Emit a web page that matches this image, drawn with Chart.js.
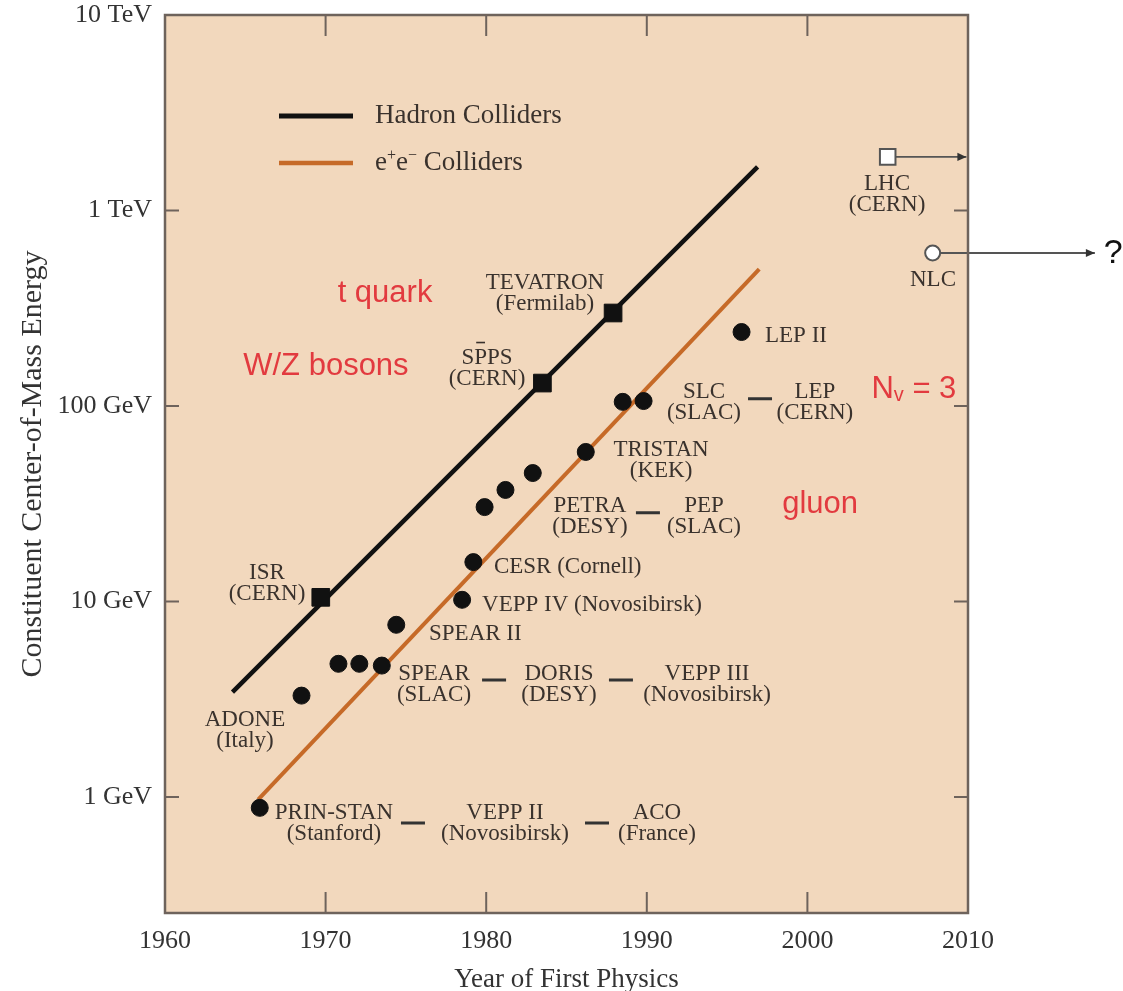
<!DOCTYPE html>
<html>
<head>
<meta charset="utf-8">
<title>Collider energy vs year of first physics</title>
<script src="https://cdn.jsdelivr.net/npm/chart.js@4.4.0/dist/chart.umd.min.js"></script>
<style>
  html, body { margin: 0; padding: 0; background: #fff; }
  #wrap { width: 1123px; height: 991px; }
</style>
</head>
<body>
<div id="wrap"><canvas id="chart" width="1123" height="991"></canvas></div>
<script>
// Constituent CM energy (GeV) vs year of first physics

// e+e- colliders (filled circles)
const eeYears  = [1965.9, 1968.5, 1970.8, 1972.1, 1973.5, 1974.4, 1978.5, 1979.2, 1979.9, 1981.2, 1982.9, 1986.2, 1988.5, 1989.8, 1995.9];
const eeEnergy = [0.88, 3.3, 4.8, 4.8, 4.7, 7.6, 10.2, 15.9, 30.4, 37.2, 45.4, 58.2, 105, 106, 239];

// hadron colliders (filled squares): ISR, SppS, Tevatron
const hadronYears  = [1969.7, 1983.5, 1987.9];
const hadronEnergy = [10.5, 131, 299];

// trend lines
const hadronTrendYears  = [1964.2, 1996.9];
const hadronTrendEnergy = [3.44, 1670];
const eeTrendYears  = [1965.8, 1997.0];
const eeTrendEnergy = [0.97, 502];

// future machines (open markers + arrow)
const lhcYears  = [2005.0, 2009.9];
const lhcEnergy = [1880, 1880];
const nlcYears  = [2007.8, 2017.9];
const nlcEnergy = [606, 606];

// axes
const yearTicks = [1960, 1970, 1980, 1990, 2000, 2010];
const energyTicks = [1, 10, 100, 1000, 10000];
const energyTickLabels = ['1 GeV', '10 GeV', '100 GeV', '1 TeV', '10 TeV'];

// machine names: [lines, year, energy, align]
const machineLabels = [
  [['TEVATRON', '(Fermilab)'], 1983.66, 378, 'center'],
  [['SPPS', '(CERN)'], 1980.05, 156, 'center'],
  [['ISR', '(CERN)'], 1966.35, 12.3, 'center'],
  [['ADONE', '(Italy)'], 1964.98, 2.2, 'center'],
  [['PRIN-STAN', '(Stanford)'], 1970.52, 0.736, 'center'],
  [['VEPP II', '(Novosibirsk)'], 1981.17, 0.736, 'center'],
  [['ACO', '(France)'], 1990.63, 0.736, 'center'],
  [['SPEAR', '(SLAC)'], 1976.75, 3.78, 'center'],
  [['DORIS', '(DESY)'], 1984.53, 3.78, 'center'],
  [['VEPP III', '(Novosibirsk)'], 1993.75, 3.78, 'center'],
  [['SPEAR II'], 1976.44, 6.82, 'left'],
  [['VEPP IV (Novosibirsk)'], 1979.74, 9.6, 'left'],
  [['CESR (Cornell)'], 1980.48, 15.0, 'left'],
  [['PETRA', '(DESY)'], 1986.46, 27.1, 'center'],
  [['PEP', '(SLAC)'], 1993.56, 27.1, 'center'],
  [['TRISTAN', '(KEK)'], 1990.89, 52.9, 'center'],
  [['SLC', '(SLAC)'], 1993.56, 104, 'center'],
  [['LEP', '(CERN)'], 2000.47, 104, 'center'],
  [['LEP II'], 1997.36, 228, 'left'],
  [['LHC', '(CERN)'], 2004.96, 1214, 'center'],
  [['NLC'], 2007.82, 441, 'center'],
];

// short bars joining machines of the same era: [year, energy]
const linkDashes = [
  [1975.44, 0.736], [1986.9, 0.736],
  [1980.49, 3.97], [1988.39, 3.97],
  [1990.07, 28.4],
  [1997.05, 109],
];

// red discovery notes: [text, year, energy]  ('|' toggles subscript)
const discoveries = [
  ['t quark', 1973.7, 378],
  ['W/Z bosons', 1970.02, 160],
  ['N|v| = 3', 2006.63, 121],
  ['gluon', 2000.79, 31.2],
];

const SERIF = "'Liberation Serif', 'Times New Roman', serif";
const SANS = "'Liberation Sans', Arial, sans-serif";
const BG = '#f2d8bd';
const ORANGE = '#c66a28';
const INK = '#3a322d';
const RED = '#e23a3f';

const toPts = (xs, ys) => xs.map((x, i) => ({ x, y: ys[i] }));

function arrowHead(ctx, x, y, size) {
  ctx.beginPath();
  ctx.moveTo(x, y);
  ctx.lineTo(x - size, y - size * 0.45);
  ctx.lineTo(x - size, y + size * 0.45);
  ctx.closePath();
  ctx.fill();
}

const decor = {
  id: 'decor',
  beforeDatasetsDraw(chart) {
    const { ctx, chartArea: a } = chart;
    ctx.save();
    ctx.fillStyle = BG;
    ctx.fillRect(a.left, a.top, a.right - a.left, a.bottom - a.top);
    ctx.restore();
  },
  afterDatasetsDraw(chart) {
    const { ctx, chartArea: a } = chart;
    const xs = chart.scales.x, ys = chart.scales.y;
    ctx.save();

    // frame + inward ticks
    ctx.strokeStyle = '#6e635c';
    ctx.lineWidth = 2.5;
    ctx.strokeRect(a.left, a.top, a.right - a.left, a.bottom - a.top);
    ctx.lineWidth = 2;
    ctx.beginPath();
    yearTicks.forEach((v) => {
      const px = xs.getPixelForValue(v);
      ctx.moveTo(px, a.bottom); ctx.lineTo(px, a.bottom - 21);
      ctx.moveTo(px, a.top); ctx.lineTo(px, a.top + 21);
    });
    energyTicks.forEach((v) => {
      const py = ys.getPixelForValue(v);
      ctx.moveTo(a.left, py); ctx.lineTo(a.left + 14, py);
      ctx.moveTo(a.right, py); ctx.lineTo(a.right - 14, py);
    });
    ctx.stroke();

    // arrowheads for future machines
    ctx.fillStyle = '#333';
    arrowHead(ctx, xs.getPixelForValue(lhcYears[1]), ys.getPixelForValue(lhcEnergy[1]), 9);
    const qx = xs.getPixelForValue(nlcYears[1]);
    const qy = ys.getPixelForValue(nlcEnergy[1]);
    arrowHead(ctx, qx, qy, 9);
    ctx.fillStyle = '#111';
    ctx.font = `34px ${SANS}`;
    ctx.textAlign = 'left';
    ctx.textBaseline = 'middle';
    ctx.fillText('?', qx + 9, qy + 1);

    // legend
    const lx = a.left + 114, ly1 = a.top + 101, ly2 = a.top + 148;
    ctx.lineCap = 'butt';
    ctx.lineWidth = 5;
    ctx.strokeStyle = '#111';
    ctx.beginPath(); ctx.moveTo(lx, ly1); ctx.lineTo(lx + 74, ly1); ctx.stroke();
    ctx.lineWidth = 4.5;
    ctx.strokeStyle = ORANGE;
    ctx.beginPath(); ctx.moveTo(lx, ly2); ctx.lineTo(lx + 74, ly2); ctx.stroke();
    ctx.fillStyle = INK;
    ctx.font = `27px ${SERIF}`;
    ctx.fillText('Hadron Colliders', lx + 96, ly1);
    let tx = lx + 96;
    const parts = [['e', 0], ['+', 1], ['e', 0], ['\u2212', 1], [' Colliders', 0]];
    parts.forEach(([t, sup]) => {
      ctx.font = sup ? `16px ${SERIF}` : `27px ${SERIF}`;
      ctx.fillText(t, tx, sup ? ly2 - 7 : ly2);
      tx += ctx.measureText(t).width;
    });

    // machine labels
    ctx.fillStyle = INK;
    ctx.font = `23px ${SERIF}`;
    machineLabels.forEach(([lines, yr, en, align]) => {
      const px = xs.getPixelForValue(yr);
      const py = ys.getPixelForValue(en);
      ctx.textAlign = align;
      const y0 = py - (lines.length - 1) * 10.5;
      lines.forEach((t, i) => ctx.fillText(t, px, y0 + i * 21));
      if (lines[0] === 'SPPS') {
        // bar over the first P (p-bar)
        const w = ctx.measureText('SPPS').width;
        const sW = ctx.measureText('S').width;
        const pW = ctx.measureText('P').width;
        const bx = px - w / 2 + sW;
        ctx.fillRect(bx + 2, y0 - 16, pW - 4, 1.6);
      }
    });

    // dashes between machines
    ctx.strokeStyle = '#333';
    ctx.lineWidth = 3;
    ctx.beginPath();
    linkDashes.forEach(([yr, en]) => {
      const px = xs.getPixelForValue(yr);
      const py = ys.getPixelForValue(en);
      ctx.moveTo(px - 12, py); ctx.lineTo(px + 12, py);
    });
    ctx.stroke();

    // red discovery notes
    ctx.fillStyle = RED;
    ctx.textAlign = 'left';
    const big = `31px ${SANS}`, small = `20px ${SANS}`;
    discoveries.forEach(([text, yr, en]) => {
      const px = xs.getPixelForValue(yr);
      const py = ys.getPixelForValue(en);
      const segs = text.split('|');
      let total = 0;
      segs.forEach((s, i) => {
        ctx.font = i % 2 ? small : big;
        total += ctx.measureText(s).width;
      });
      let cx = px - total / 2;
      segs.forEach((s, i) => {
        ctx.font = i % 2 ? small : big;
        ctx.fillText(s, cx, i % 2 ? py + 6 : py);
        cx += ctx.measureText(s).width;
      });
    });

    ctx.restore();
  },
};

new Chart(document.getElementById('chart'), {
  type: 'scatter',
  data: {
    datasets: [
      {
        label: 'Hadron Colliders',
        type: 'line',
        data: toPts(hadronTrendYears, hadronTrendEnergy),
        borderColor: '#111',
        borderWidth: 4.5,
        pointRadius: 0,
        order: 5,
      },
      {
        label: 'e+e- Colliders',
        type: 'line',
        data: toPts(eeTrendYears, eeTrendEnergy),
        borderColor: ORANGE,
        borderWidth: 4,
        pointRadius: 0,
        order: 5,
      },
      {
        label: 'LHC arrow',
        type: 'line',
        data: toPts(lhcYears, lhcEnergy),
        borderColor: '#555',
        borderWidth: 1.8,
        pointRadius: 0,
        clip: false,
        order: 4,
      },
      {
        label: 'NLC arrow',
        type: 'line',
        data: toPts(nlcYears, nlcEnergy),
        borderColor: '#555',
        borderWidth: 1.8,
        pointRadius: 0,
        clip: false,
        order: 4,
      },
      {
        label: 'hadron machines',
        data: toPts(hadronYears, hadronEnergy),
        pointStyle: 'rect',
        pointRadius: 12.5,
        backgroundColor: '#111',
        borderColor: '#111',
        order: 1,
      },
      {
        label: 'e+e- machines',
        data: toPts(eeYears, eeEnergy),
        pointStyle: 'circle',
        pointRadius: 8.5,
        backgroundColor: '#111',
        borderColor: '#111',
        order: 1,
      },
      {
        label: 'LHC',
        data: toPts(lhcYears.slice(0, 1), lhcEnergy.slice(0, 1)),
        pointStyle: 'rect',
        pointRadius: 11,
        backgroundColor: '#fff',
        borderColor: '#555',
        borderWidth: 2,
        order: 1,
      },
      {
        label: 'NLC',
        data: toPts(nlcYears.slice(0, 1), nlcEnergy.slice(0, 1)),
        pointStyle: 'circle',
        pointRadius: 7.5,
        backgroundColor: '#fff',
        borderColor: '#555',
        borderWidth: 2,
        order: 1,
      },
    ],
  },
  options: {
    responsive: false,
    animation: false,
    layout: { padding: { left: 0, right: 155, top: 15, bottom: 0 } },
    plugins: {
      legend: { display: false },
      tooltip: { enabled: false },
    },
    scales: {
      x: {
        type: 'linear',
        min: 1960,
        max: 2010,
        afterBuildTicks: (s) => { s.ticks = yearTicks.map((v) => ({ value: v })); },
        afterFit: (s) => { s.height = 78; s.paddingLeft = 0; s.paddingRight = 0; },
        grid: { display: false, drawTicks: false },
        border: { display: false },
        ticks: {
          callback: (v) => String(v),
          color: '#333',
          font: { family: SERIF, size: 26 },
          padding: 13,
          maxRotation: 0,
        },
        title: {
          display: true,
          text: 'Year of First Physics',
          color: '#333',
          font: { family: SERIF, size: 27, lineHeight: 0.8 },
          padding: { top: 0, bottom: 0 },
        },
      },
      y: {
        type: 'logarithmic',
        min: 0.255,
        max: 10000,
        afterBuildTicks: (s) => { s.ticks = energyTicks.map((v) => ({ value: v })); },
        afterFit: (s) => { s.width = 165; s.paddingTop = 0; s.paddingBottom = 0; },
        grid: { display: false, drawTicks: false },
        border: { display: false },
        ticks: {
          callback: (v) => energyTickLabels[energyTicks.indexOf(v)] || '',
          color: '#333',
          font: { family: SERIF, size: 26 },
          padding: 13,
        },
        title: {
          display: true,
          text: 'Constituent Center-of-Mass Energy',
          color: '#333',
          font: { family: SERIF, size: 30, lineHeight: 1 },
          padding: { top: 18, bottom: 0 },
        },
      },
    },
  },
  plugins: [decor],
});
</script>
</body>
</html>
